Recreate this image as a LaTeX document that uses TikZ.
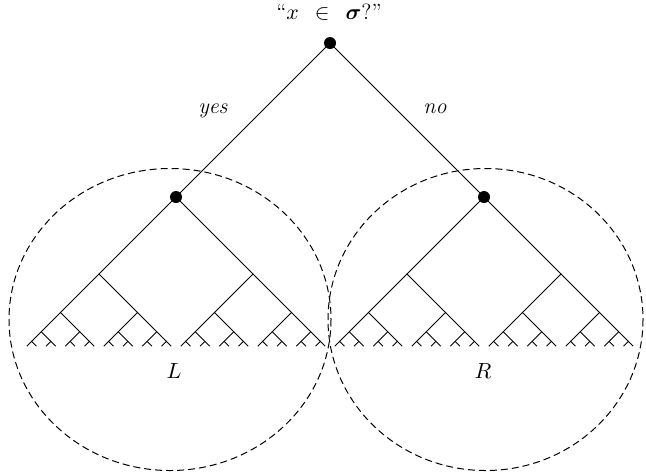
\documentclass[tikz,border=0pt]{standalone}
\usepackage{amsmath,amsbsy}
\begin{document}
\begin{tikzpicture}[x=0.5pt,y=-0.5pt,
  edge/.style={line width=0.5pt},
  dot/.style={circle,fill=black,inner sep=0pt,minimum size=6pt},
  region/.style={line width=0.5pt,dash pattern=on 3.5pt off 2pt},
  lbl/.style={font=\fontsize{11}{13}\selectfont,anchor=base,inner sep=0pt}]
\useasboundingbox (0,0) rectangle (646,473);
% node positions of the tree
\foreach \d in {0,...,6}{
  \pgfmathsetmacro\hh{154/2^\d}
  \pgfmathsetmacro\yy{43+154*(2-2^(1-\d))}
  \pgfmathtruncatemacro\nn{2^\d-1}
  \foreach \i in {0,...,\nn}{
    \coordinate (n-\d-\i) at ({330-(\yy-43)+4*\hh*\i},\yy);
  }
}
% edges
\foreach \d in {0,...,5}{
  \pgfmathtruncatemacro\nn{2^\d-1}
  \pgfmathtruncatemacro\e{\d+1}
  \foreach \i in {0,...,\nn}{
    \pgfmathtruncatemacro\a{2*\i}
    \pgfmathtruncatemacro\b{2*\i+1}
    \draw[edge] (n-\e-\a) -- (n-\d-\i) -- (n-\e-\b);
  }
}
\node[dot] (root) at (n-0-0) {};
\node[dot] (lc) at (n-1-0) {};
\node[dot] (rc) at (n-1-1) {};
% regions
\draw[region] (170,319.5) ellipse [x radius=161, y radius=151];
\draw[region] (485.5,319.5) ellipse [x radius=157.5, y radius=151];
% labels
\node[lbl] (q) at (329,19) {\textquotedblleft$x$\hspace{8pt}$\in$\hspace{8pt}$\boldsymbol{\sigma}$?\textquotedblright};
\node[lbl] (yes) at (213,113.5) {\textit{yes}};
\node[lbl] (no) at (435,113.5) {\textit{no}};
\node[lbl] (L) at (174,378) {$L$};
\node[lbl] (R) at (483,378) {$R$};
\end{tikzpicture}
\end{document}
